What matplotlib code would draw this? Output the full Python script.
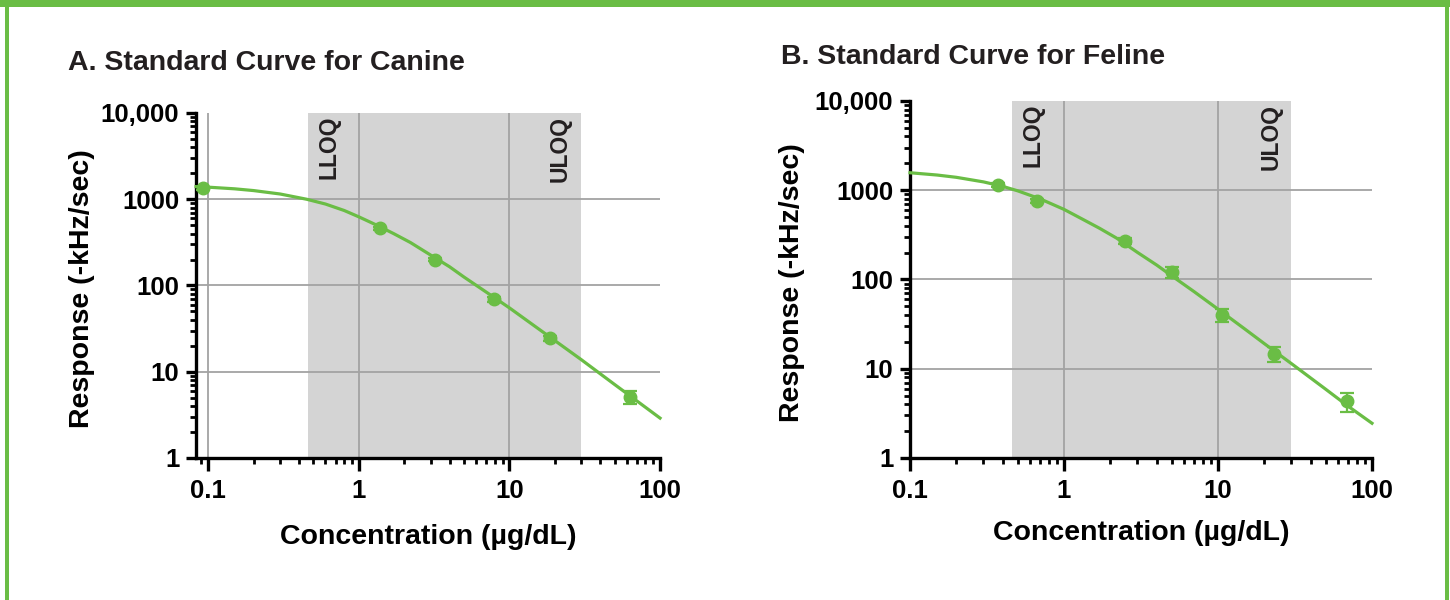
import matplotlib
matplotlib.use("Agg")
import matplotlib.pyplot as plt
from matplotlib.patches import Rectangle
from matplotlib.ticker import FixedLocator, FixedFormatter, LogLocator, NullFormatter

plt.rcParams['font.family'] = ['Liberation Sans', 'DejaVu Sans']
plt.rcParams['font.weight'] = 'bold'

GREEN = '#6abd45'
SHADE = '#d4d4d4'
GRID = '#a3a3a3'

# quantification range (same for both species)
lloq = 0.46
uloq = 30

# canine standards (mean +/- sd) and fitted curve
canine_x = [0.093, 1.38, 3.2, 7.9, 18.7, 63]
canine_y = [1340, 461, 200, 69, 24.3, 5.1]
canine_err = [50, 18, 8, 5, 1.5, 0.9]
canine_fit_x = [0.083, 0.1, 0.15, 0.2, 0.3, 0.45, 0.6, 0.8, 1, 1.3, 1.7, 2.2, 3, 4, 5, 7, 10, 15, 20, 30, 50, 70, 100]
canine_fit_y = [1400, 1380, 1320, 1260, 1150, 1000, 880, 740, 625, 505, 400, 315, 225, 165, 125, 84, 55, 33, 23, 13.8, 7.1, 4.6, 2.9]

# feline standards and fitted curve
feline_x = [0.37, 0.67, 2.5, 5.0, 10.6, 23, 69]
feline_y = [1140, 760, 268, 120, 40, 14.8, 4.3]
feline_err = [50, 35, 20, 17, 7, 2.8, 1.0]
feline_fit_x = [0.1, 0.15, 0.2, 0.3, 0.4, 0.5, 0.7, 1, 1.3, 1.7, 2.2, 3, 4, 5, 7, 10, 15, 20, 30, 50, 70, 100]
feline_fit_y = [1570, 1480, 1395, 1240, 1105, 985, 800, 610, 480, 375, 290, 201, 145, 110, 73, 46.5, 27.7, 19.1, 11.4, 5.9, 3.8, 2.45]

y_ticks = [1, 10, 100, 1000, 10000]
y_ticklabels = ['1', '10', '100', '1000', '10,000']
x_ticks = [0.1, 1, 10, 100]
x_ticklabels = ['0.1', '1', '10', '100']


def draw_panel(ax, xs, ys, errs, fit_x, fit_y, xmin):
    ax.set_xscale('log')
    ax.set_yscale('log')
    ax.set_xlim(xmin, 100)
    ax.set_ylim(1, 10000)

    ax.axvspan(lloq, uloq, color=SHADE, lw=0, zorder=0)
    for v in x_ticks:
        if xmin < v < 100:
            ax.axvline(v, color=GRID, lw=1.3, zorder=1)
    for v in y_ticks[1:-1]:
        ax.axhline(v, color=GRID, lw=1.3, zorder=1)

    ax.plot(fit_x, fit_y, color=GREEN, lw=2.3, zorder=3, clip_on=False)
    ax.errorbar(xs, ys, yerr=errs, fmt='o', color=GREEN, ms=9,
                elinewidth=1.6, capsize=5, capthick=1.6, zorder=4, clip_on=False)

    for spine in ['top', 'right']:
        ax.spines[spine].set_visible(False)
    for spine in ['left', 'bottom']:
        ax.spines[spine].set_linewidth(2.4)

    ax.yaxis.set_major_locator(FixedLocator(y_ticks))
    ax.yaxis.set_major_formatter(FixedFormatter(y_ticklabels))
    ax.yaxis.set_minor_locator(LogLocator(base=10, subs=range(2, 10), numticks=20))
    ax.yaxis.set_minor_formatter(NullFormatter())
    ax.xaxis.set_major_locator(FixedLocator(x_ticks))
    ax.xaxis.set_major_formatter(FixedFormatter(x_ticklabels))
    ax.xaxis.set_minor_locator(LogLocator(base=10, subs=range(2, 10), numticks=20))
    ax.xaxis.set_minor_formatter(NullFormatter())

    ax.tick_params(axis='y', which='major', length=7, width=2.4, labelsize=18.5, pad=5)
    ax.tick_params(axis='y', which='minor', length=4, width=2.0)
    ax.tick_params(axis='x', which='major', length=9, width=2.4, labelsize=18.5, pad=6)
    ax.tick_params(axis='x', which='minor', length=4.5, width=2.0)

    ax.set_xlabel('Concentration (µg/dL)', fontsize=20.5, fontweight='bold')
    ax.set_ylabel('Response (-kHz/sec)', fontsize=20.5, fontweight='bold')
    ax.xaxis.label.set_va('center')
    ax.yaxis.label.set_va('center')

    ax.annotate('LLOQ', xy=(lloq, 1), xycoords=('data', 'axes fraction'),
                xytext=(15, -2), textcoords='offset points', rotation=90,
                ha='center', va='top', fontsize=16.5, fontweight='bold', color='#231f20')
    ax.annotate('ULOQ', xy=(uloq, 1), xycoords=('data', 'axes fraction'),
                xytext=(-15, -2), textcoords='offset points', rotation=90,
                ha='center', va='top', fontsize=16.5, fontweight='bold', color='#231f20')


fig = plt.figure(figsize=(14.5, 6), dpi=100)

axA = fig.add_axes([0.1352, 0.2367, 0.32, 0.575])
draw_panel(axA, canine_x, canine_y, canine_err, canine_fit_x, canine_fit_y, 0.083)
axA.xaxis.set_label_coords(0.5, -0.229)
axA.yaxis.set_label_coords(-0.245, 0.49)

axB = fig.add_axes([0.6276, 0.2367, 0.3186, 0.595])
draw_panel(axB, feline_x, feline_y, feline_err, feline_fit_x, feline_fit_y, 0.1)
axB.xaxis.set_label_coords(0.5, -0.21)
axB.yaxis.set_label_coords(-0.255, 0.49)

fig.text(68 / 1450, 1 - 63 / 600, 'A. Standard Curve for Canine', fontsize=20.5,
         fontweight='bold', ha='left', va='center', color='#231f20')
fig.text(781 / 1450, 1 - 57 / 600, 'B. Standard Curve for Feline', fontsize=20.5,
         fontweight='bold', ha='left', va='center', color='#231f20')

# green frame: thick top band, thin side rules
fig.add_artist(Rectangle((0, 1 - 7 / 600), 1, 7 / 600, transform=fig.transFigure,
                         color=GREEN, lw=0))
fig.add_artist(Rectangle((5 / 1450, 0), 4 / 1450, 1, transform=fig.transFigure,
                         color=GREEN, lw=0))
fig.add_artist(Rectangle((1445 / 1450, 0), 4 / 1450, 1, transform=fig.transFigure,
                         color=GREEN, lw=0))

fig.savefig('out.png', dpi=100)
